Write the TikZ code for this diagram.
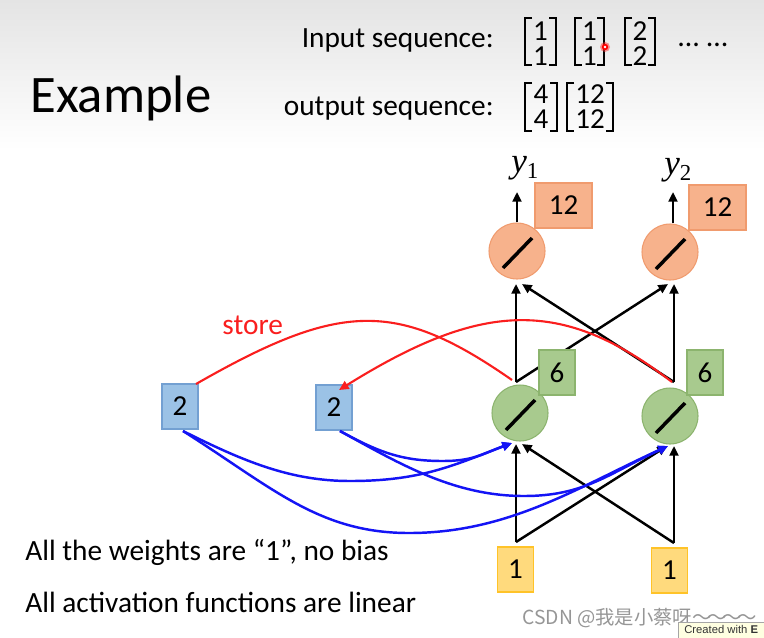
\documentclass[tikz,border=0pt]{standalone}
\usepackage{fontspec}
\setmainfont{Carlito}
\newfontfamily\cjkfont{Noto Sans CJK SC}
\newfontfamily\tipfont{Liberation Sans}
\newfontfamily\serfont{Liberation Serif}
\usetikzlibrary{arrows.meta}
\definecolor{orfill}{RGB}{247,178,140}
\definecolor{ordraw}{RGB}{240,155,110}
\definecolor{grfill}{RGB}{168,202,142}
\definecolor{grdraw}{RGB}{140,180,110}
\definecolor{blfill}{RGB}{155,194,230}
\definecolor{bldraw}{RGB}{115,160,210}
\definecolor{yefill}{RGB}{255,218,125}
\definecolor{yedraw}{RGB}{255,195,40}
\definecolor{linkblue}{RGB}{20,20,245}
\definecolor{linkred}{RGB}{250,30,30}
\definecolor{wmgray}{RGB}{150,150,150}
\definecolor{tipfill}{RGB}{255,255,225}
\begin{document}
\begin{tikzpicture}[x=0.02cm,y=-0.02cm,
  txt/.style={font=\fontsize{16.7}{20}\selectfont, inner sep=0},
  mtx/.style={font=\fontsize{16.5}{14.2}\selectfont, inner sep=0, align=center},
  brk/.style={line width=1.1pt},
  neuron/.style={circle, minimum size=1.12cm, inner sep=0, line width=0.6pt},
  valbox/.style={rectangle, minimum width=0.72cm, minimum height=0.9cm, inner sep=0, line width=0.6pt, font=\fontsize{16.5}{19}\selectfont},
  slash/.style={line width=2pt},
  conn/.style={line width=1.4pt, -{Triangle[length=5.5pt,width=5pt]}},
  blink/.style={line width=1.4pt, linkblue, -{Triangle[length=5.5pt,width=5pt]}},
  rlink/.style={line width=1.2pt, linkred},
  ylab/.style={inner sep=0, anchor=base west, font=\serfont\fontsize{20}{24}\selectfont},
]
\useasboundingbox (0,0) rectangle (764,637);
\clip (0,0) rectangle (764,637);
\fill[white] (0,0) rectangle (764,637);
\shade[top color={rgb,255:red,228;green,228;blue,228}, bottom color=white] (0,0) rectangle (764,150);

% titles
\node[inner sep=0, anchor=base west, font=\fontsize{30}{36}\selectfont] (title) at (30,112) {Example};
\node[txt, anchor=base east] (inlab) at (494,47) {Input sequence:};
\node[txt, anchor=base east] (outlab) at (494,115) {output sequence:};

% input matrices
\draw[brk] (532,18) -| (525,65) -- ++(7,0);
\draw[brk] (549,18) -| (556,65) -- ++(-7,0);
\node[mtx] (m1) at (540.5,44) {1\\1};
\draw[brk] (582,18) -| (575,65) -- ++(7,0);
\draw[brk] (597,18) -| (604,65) -- ++(-7,0);
\node[mtx] (m2) at (589.5,44) {1\\1};
\draw[brk] (632,18) -| (625,65) -- ++(7,0);
\draw[brk] (648,18) -| (655,65) -- ++(-7,0);
\node[mtx] (m3) at (640,44) {2\\2};
\node[inner sep=0, font=\fontsize{17}{20}\selectfont, anchor=base west] (dots) at (678,46) {…\hspace{4.5pt}…};
% pointer dot
\fill[red!80, opacity=0.5] (605,47) circle (5);
\fill[red] (605,47) circle (3.2);
\fill[white] (605,47) circle (1.4);

% output matrices
\draw[brk] (532,83) -| (525,131) -- ++(7,0);
\draw[brk] (550,83) -| (557,131) -- ++(-7,0);
\node[mtx] (m4) at (541,106.5) {4\\4};
\draw[brk] (574,83) -| (567,131) -- ++(7,0);
\draw[brk] (606,83) -| (613,131) -- ++(-7,0);
\node[mtx] (m5) at (590,106.5) {12\\12};

% output neurons
\node[neuron, fill=orfill, draw=ordraw] (o1) at (517,251) {};
\node[neuron, fill=orfill, draw=ordraw] (o2) at (670,252) {};
\draw[slash] ([shift={(-14,17)}]o1.center) -- ([shift={(15,-13)}]o1.center);
\draw[slash] ([shift={(-14,17)}]o2.center) -- ([shift={(15,-13)}]o2.center);
\node[valbox, minimum width=1.14cm, fill=orfill, draw=ordraw] (ov1) at (563.5,205.5) {12};
\node[valbox, minimum width=1.14cm, fill=orfill, draw=ordraw] (ov2) at (717.5,207.5) {12};
\node[ylab] (y1) at (511,172) {\itshape y\raisebox{-0.4ex}{\upshape\fontsize{13}{15}\selectfont 1}};
\node[ylab] (y2) at (664,174) {\itshape y\raisebox{-0.4ex}{\upshape\fontsize{13}{15}\selectfont 2}};
\coordinate (y1a) at (517,192);
\coordinate (y2a) at (673,192);
\draw[conn] (o1.north) -- (y1a);
\draw[conn] ([xshift=3*0.02cm]o2.north) -- (y2a);

% hidden neurons
\node[neuron, fill=grfill, draw=grdraw] (h1) at (520,413) {};
\node[neuron, fill=grfill, draw=grdraw] (h2) at (670,416) {};
\draw[slash] ([shift={(-14,17)}]h1.center) -- ([shift={(15,-13)}]h1.center);
\draw[slash] ([shift={(-14,17)}]h2.center) -- ([shift={(15,-13)}]h2.center);

% hidden -> output
\coordinate (h1t) at (516,382);
\coordinate (h2t) at (674,382);
\coordinate (o1b) at (516,284);
\coordinate (o1bd) at (522,284);
\coordinate (o2b) at (674,284);
\coordinate (o2bd) at (668,284);
\draw[conn] (h1t) -- (o1b);
\draw[conn] (h1t) -- (o2bd);
\draw[conn] (h2t) -- (o2b);
\draw[conn] (h2t) -- (o1bd);

\node[valbox, fill=grfill, draw=grdraw] (hv1) at (557,372.5) {6};
\node[valbox, fill=grfill, draw=grdraw] (hv2) at (705,372.5) {6};

% inputs
\node[valbox, fill=yefill, draw=yedraw] (x1) at (515.5,569.5) {1};
\node[valbox, fill=yefill, draw=yedraw] (x2) at (669.5,570.5) {1};
\coordinate (x1t) at (516,542);
\coordinate (x2t) at (674,543);
\coordinate (h1b) at (516,444);
\coordinate (h1bd) at (522,444);
\coordinate (h2b) at (674,446);
\coordinate (h2bd) at (667,446);
\draw[conn] (x1t) -- (h1b);
\draw[conn] (x1t) -- (h2bd);
\draw[conn] (x2t) -- (h2b);
\draw[conn] (x2t) -- (h1bd);

% memory cells
\node[valbox, fill=blfill, draw=bldraw] (c1) at (180,406.5) {2};
\node[valbox, fill=blfill, draw=bldraw] (c2) at (334,407.5) {2};

% store arrows
\coordinate (h1s) at (512,380);
\coordinate (h2s) at (672,382);
\coordinate (c1s) at (196,384);
\coordinate (c2s) at (339,390);
\draw[rlink] (h1s) .. controls (397,300) and (341,301) .. (c1s);
\draw[rlink, -{Triangle[length=5.5pt,width=5pt]}] (h2s) .. controls (562,297) and (482,301) .. (c2s);
\node[txt, text=linkred, anchor=base west] (store) at (222,334) {store};

% memory -> hidden
\coordinate (c1b) at (183,431);
\coordinate (c2b) at (340,431);
\coordinate (h1m) at (512,443);
\coordinate (h2m) at (668,446);
\draw[blink] (c1b) .. controls (243,461) and (290,481) .. (350,481) .. controls (420,481) and (452,466) .. (h1m);
\draw[blink] (c1b) .. controls (273,488) and (319,533) .. (409,533) .. controls (509,533) and (578,487) .. (h2m);
\draw[blink] (c2b) .. controls (380,453) and (403,461) .. (443,461) .. controls (473,461) and (482,454) .. (h1m);
\draw[blink] (c2b) .. controls (400,464) and (454,496) .. (524,496) .. controls (584,496) and (608,474) .. (h2m);

% notes
\node[txt, anchor=base west] (note1) at (25,560) {All the weights are “1”, no bias};
\node[txt, anchor=base west] (note2) at (25,612) {All activation functions are linear};

% watermark
\node[inner sep=0, anchor=base west, text=wmgray, font=\cjkfont\fontsize{11}{13}\selectfont] (wm) at (522,624) {CSDN @我是小蔡呀\makebox[0.3cm][l]{～}\makebox[0.3cm][l]{～}\makebox[0.3cm][l]{～}\makebox[0.2cm][l]{～}};
\draw[fill=tipfill, draw=gray!70, line width=0.5pt] (678,622) rectangle (780,645);
\node[inner sep=0, anchor=base west, font=\tipfont\fontsize{6.4}{8}\selectfont, text=black!80] (tip) at (684,633) {Created with \textbf{E}};
\end{tikzpicture}
\end{document}
